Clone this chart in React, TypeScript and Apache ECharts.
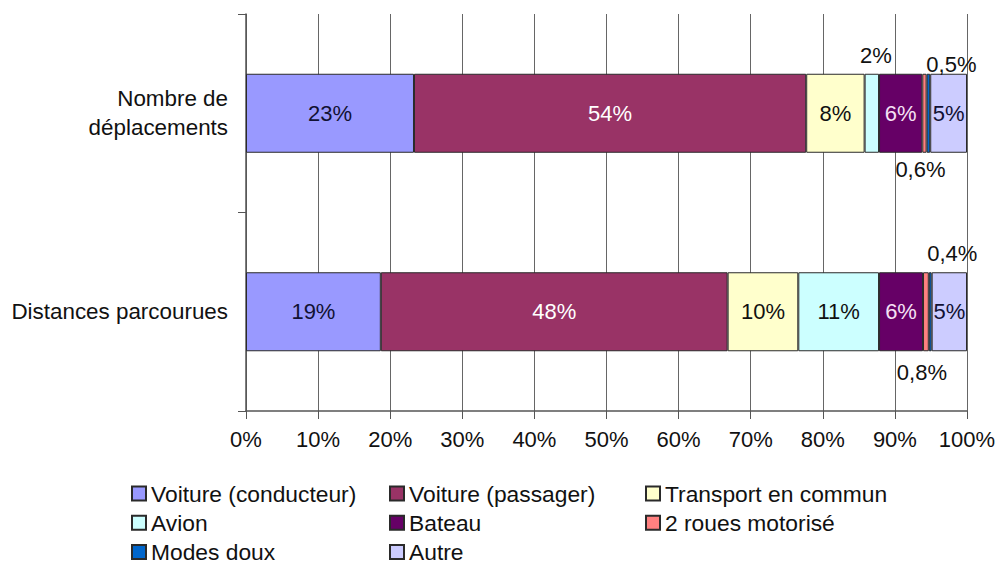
import React, { useEffect, useRef } from "react";
import * as echarts from "echarts";

const categories = ["Nombre de\ndéplacements", "Distances parcourues"];
const seriesNames = [
  "Voiture (conducteur)",
  "Voiture (passager)",
  "Transport en commun",
  "Avion",
  "Bateau",
  "2 roues motorisé",
  "Modes doux",
  "Autre",
];
const conducteur = [23.3, 18.7];
const passager = [54.4, 48.1];
const transportCommun = [8.1, 9.8];
const avion = [2.0, 11.2];
const bateau = [6.0, 6.1];
const deuxRoues = [0.6, 0.8];
const modesDoux = [0.5, 0.4];
const autre = [5.1, 4.9];
const xTickValues = [0, 10, 20, 30, 40, 50, 60, 70, 80, 90, 100];

const seriesValues = [conducteur, passager, transportCommun, avion, bateau, deuxRoues, modesDoux, autre];
const colors = ["#9999FF", "#993366", "#FFFFCC", "#CCFFFF", "#660066", "#FF8080", "#0066CC", "#CCCCFF"];
const labelColors = ["#111133", "#ffffff", "#111111", "#111111", "#f5e0f5", "#111111", "#111111", "#111133"];

const FONT = "'Liberation Sans', Arial, sans-serif";

// label placement overrides: [seriesIndex]-[categoryIndex]
const labelOverrides: Record<string, any> = {
  "3-0": { position: "top", distance: 7, offset: [4, 0], color: "#111" },
  "5-0": { position: "bottom", distance: 6, offset: [-4, 0], color: "#111" },
  "6-0": { position: "top", distance: -2, offset: [23, 0], color: "#111" },
  "5-1": { position: "bottom", distance: 10, offset: [-4, 0], color: "#111" },
  "6-1": { position: "top", distance: 8, offset: [22, 0], color: "#111" },
};

const fmt = (v: number) => (v >= 1 ? Math.round(v) + "%" : String(v).replace(".", ",") + "%");

export default function App() {
  const ref = useRef<HTMLDivElement>(null);
  useEffect(() => {
    if (!ref.current) return;
    const chart = echarts.init(ref.current, undefined, { renderer: "svg" });
    const series = seriesNames.map((name, si) => ({
      name,
      type: "bar",
      stack: "total",
      barWidth: 79,
      itemStyle: { color: colors[si], borderColor: "#2a2a2a", borderWidth: 1 },
      label: {
        show: true,
        position: "inside",
        color: labelColors[si],
        fontFamily: FONT,
        fontSize: 22,
        formatter: (p: any) => fmt(p.value),
      },
      data: seriesValues[si].map((v, ci) => {
        const o = labelOverrides[`${si}-${ci}`];
        return o ? { value: v, label: { ...o } } : { value: v };
      }),
    }));
    const legendCols = [
      [seriesNames[0], seriesNames[3], seriesNames[6]],
      [seriesNames[1], seriesNames[4], seriesNames[7]],
      [seriesNames[2], seriesNames[5]],
    ];
    const legendLefts = [131, 389, 645];
    chart.setOption({
      animation: false,
      color: colors,
      grid: { left: 246, right: 32, top: 14, bottom: 158, containLabel: false },
      xAxis: {
        type: "value",
        min: 0,
        max: 100,
        interval: 10,
        axisLine: { show: true, lineStyle: { color: "#555", width: 1.5 } },
        axisTick: { show: true, length: 8, lineStyle: { color: "#555" } },
        splitLine: { show: true, lineStyle: { color: "#666", width: 1 } },
        axisLabel: {
          margin: 17,
          fontFamily: FONT,
          fontSize: 22,
          color: "#111",
          formatter: (v: number) => (xTickValues.includes(v) ? v + "%" : ""),
        },
      },
      yAxis: {
        type: "category",
        inverse: true,
        data: categories,
        axisLine: { show: true, lineStyle: { color: "#555", width: 1.5 } },
        axisTick: { show: true, length: 8, lineStyle: { color: "#555" } },
        axisLabel: {
          margin: 18,
          fontFamily: FONT,
          fontSize: 22.4,
          lineHeight: 29,
          color: "#111",
          align: "right",
        },
      },
      legend: legendCols.map((col, i) => ({
        data: col,
        orient: "vertical",
        left: legendLefts[i],
        top: 482,
        padding: 0,
        itemWidth: 14,
        itemHeight: 14,
        itemGap: 6.2,
        icon: "rect",
        textStyle: { fontFamily: FONT, fontSize: 22.8, color: "#111", lineHeight: 22 },
      })),
      series,
    });
    return () => chart.dispose();
  }, []);
  return <div ref={ref} style={{ width: 999, height: 569, position: "absolute", left: 0, top: 0 }} />;
}
